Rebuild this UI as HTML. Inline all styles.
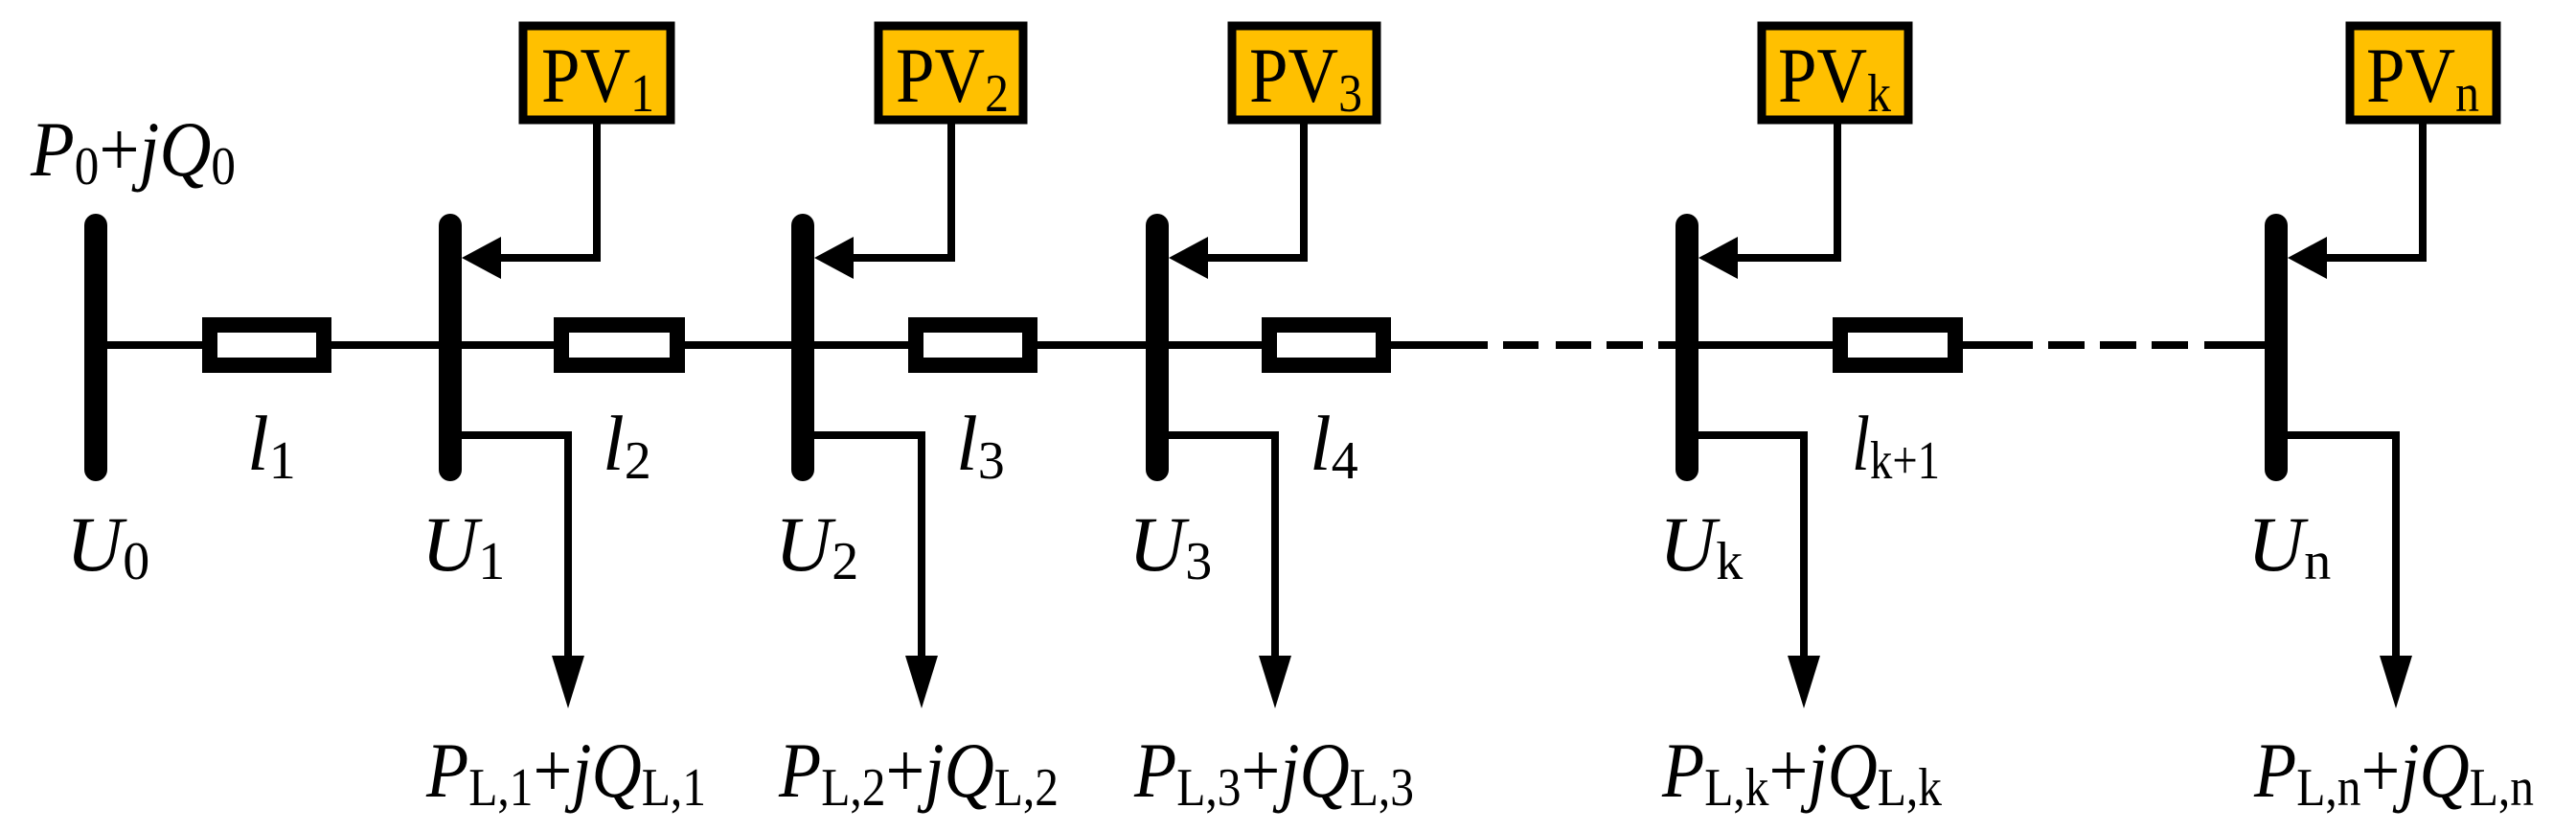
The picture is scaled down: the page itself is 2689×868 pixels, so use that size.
<!DOCTYPE html>
<html><head><meta charset="utf-8"><style>
html,body{margin:0;padding:0;background:#fff}
svg{display:block}
svg text{font-family:"Liberation Serif","DejaVu Serif",serif;fill:#000}
.it{font-style:italic}
</style></head><body>
<svg width="2689" height="868" viewBox="0 0 2689 868" xmlns="http://www.w3.org/2000/svg" font-family="Liberation Serif, DejaVu Serif, serif">
<g stroke="#000" stroke-width="8" fill="none">
<line x1="100" y1="360" x2="1553" y2="360"/>
<line x1="1569" y1="360" x2="1606" y2="360"/>
<line x1="1624" y1="360" x2="1661" y2="360"/>
<line x1="1677" y1="360" x2="1715" y2="360"/>
<line x1="1731" y1="360" x2="2122" y2="360"/>
<line x1="2138" y1="360" x2="2176" y2="360"/>
<line x1="2192" y1="360" x2="2230" y2="360"/>
<line x1="2246" y1="360" x2="2284" y2="360"/>
<line x1="2301" y1="360" x2="2376" y2="360"/>
</g>
<g stroke="#000" stroke-width="16" fill="#fff">
<rect x="219" y="339" width="119" height="42"/>
<rect x="586" y="339" width="121" height="42"/>
<rect x="956" y="339" width="119" height="42"/>
<rect x="1325" y="339" width="119" height="42"/>
<rect x="1921" y="339" width="120" height="42"/>
</g>
<g stroke="#000" stroke-width="24" stroke-linecap="round">
<line x1="100" y1="235" x2="100" y2="490"/>
<line x1="470" y1="235" x2="470" y2="490"/>
<line x1="838" y1="235" x2="838" y2="490"/>
<line x1="1208" y1="235" x2="1208" y2="490"/>
<line x1="1761" y1="235" x2="1761" y2="490"/>
<line x1="2376" y1="235" x2="2376" y2="490"/>
</g>
<g stroke="#000" stroke-width="8" fill="none">
<polyline points="623,127 623,269 520,269"/>
<polyline points="993,127 993,269 890,269"/>
<polyline points="1361,127 1361,269 1260,269"/>
<polyline points="1918,127 1918,269 1813,269"/>
<polyline points="2529,127 2529,269 2428,269"/>
<polyline points="482,454 593,454 593,690"/>
<polyline points="850,454 962,454 962,690"/>
<polyline points="1220,454 1331,454 1331,690"/>
<polyline points="1773,454 1883,454 1883,690"/>
<polyline points="2388,454 2501,454 2501,690"/>
</g>
<g fill="#000">
<polygon points="482,269 523,247 523,291"/>
<polygon points="850,269 891,247 891,291"/>
<polygon points="1220,269 1261,247 1261,291"/>
<polygon points="1773,269 1814,247 1814,291"/>
<polygon points="2388,269 2429,247 2429,291"/>
<polygon points="576,684 610,684 593,739"/>
<polygon points="945,684 979,684 962,739"/>
<polygon points="1314,684 1348,684 1331,739"/>
<polygon points="1866,684 1900,684 1883,739"/>
<polygon points="2484,684 2518,684 2501,739"/>
</g>
<g stroke="#000" stroke-width="9" fill="#FFC000">
<rect x="546" y="27" width="154" height="98"/>
<rect x="917" y="27" width="151" height="98"/>
<rect x="1286" y="27" width="151" height="98"/>
<rect x="1839" y="27" width="153" height="98"/>
<rect x="2453" y="27" width="153" height="98"/>
</g>
<g font-size="82">
<text x="565" y="106" textLength="118" lengthAdjust="spacingAndGlyphs">PV<tspan font-size="56" dy="10">1</tspan></text>
<text x="935" y="106" textLength="118" lengthAdjust="spacingAndGlyphs">PV<tspan font-size="56" dy="10">2</tspan></text>
<text x="1304" y="106" textLength="118" lengthAdjust="spacingAndGlyphs">PV<tspan font-size="56" dy="10">3</tspan></text>
<text x="1856" y="106" textLength="118" lengthAdjust="spacingAndGlyphs">PV<tspan font-size="56" dy="10">k</tspan></text>
<text x="2470" y="106" textLength="118" lengthAdjust="spacingAndGlyphs">PV<tspan font-size="56" dy="10">n</tspan></text>
</g>
<g font-size="82">
<text x="32" y="183" textLength="214" lengthAdjust="spacingAndGlyphs"><tspan class="it">P</tspan><tspan font-size="56" dy="9">0</tspan><tspan dy="-9">+</tspan><tspan class="it">jQ</tspan><tspan font-size="56" dy="9">0</tspan></text>
<text x="258" y="490" class="it">l<tspan font-size="56" dy="9" font-style="normal">1</tspan></text>
<text x="629" y="490" class="it">l<tspan font-size="56" dy="9" font-style="normal">2</tspan></text>
<text x="998" y="490" class="it">l<tspan font-size="56" dy="9" font-style="normal">3</tspan></text>
<text x="1367" y="490" class="it">l<tspan font-size="56" dy="9" font-style="normal">4</tspan></text>
<text x="1933" y="490" class="it" textLength="92" lengthAdjust="spacingAndGlyphs">l<tspan font-size="56" dy="9" font-style="normal">k+1</tspan></text>
<text x="69" y="595" class="it">U<tspan font-size="56" dy="9" font-style="normal">0</tspan></text>
<text x="440" y="595" class="it">U<tspan font-size="56" dy="9" font-style="normal">1</tspan></text>
<text x="809" y="595" class="it">U<tspan font-size="56" dy="9" font-style="normal">2</tspan></text>
<text x="1178" y="595" class="it">U<tspan font-size="56" dy="9" font-style="normal">3</tspan></text>
<text x="1732" y="595" class="it">U<tspan font-size="56" dy="9" font-style="normal">k</tspan></text>
<text x="2346" y="595" class="it">U<tspan font-size="56" dy="9" font-style="normal">n</tspan></text>
<text x="445" y="831" textLength="292" lengthAdjust="spacingAndGlyphs"><tspan class="it">P</tspan><tspan font-size="56" dy="9">L,1</tspan><tspan dy="-9">+</tspan><tspan class="it">jQ</tspan><tspan font-size="56" dy="9">L,1</tspan></text>
<text x="813" y="831" textLength="292" lengthAdjust="spacingAndGlyphs"><tspan class="it">P</tspan><tspan font-size="56" dy="9">L,2</tspan><tspan dy="-9">+</tspan><tspan class="it">jQ</tspan><tspan font-size="56" dy="9">L,2</tspan></text>
<text x="1184" y="831" textLength="292" lengthAdjust="spacingAndGlyphs"><tspan class="it">P</tspan><tspan font-size="56" dy="9">L,3</tspan><tspan dy="-9">+</tspan><tspan class="it">jQ</tspan><tspan font-size="56" dy="9">L,3</tspan></text>
<text x="1735" y="831" textLength="292" lengthAdjust="spacingAndGlyphs"><tspan class="it">P</tspan><tspan font-size="56" dy="9">L,k</tspan><tspan dy="-9">+</tspan><tspan class="it">jQ</tspan><tspan font-size="56" dy="9">L,k</tspan></text>
<text x="2353" y="831" textLength="292" lengthAdjust="spacingAndGlyphs"><tspan class="it">P</tspan><tspan font-size="56" dy="9">L,n</tspan><tspan dy="-9">+</tspan><tspan class="it">jQ</tspan><tspan font-size="56" dy="9">L,n</tspan></text>
</g>
</svg>
</body></html>
